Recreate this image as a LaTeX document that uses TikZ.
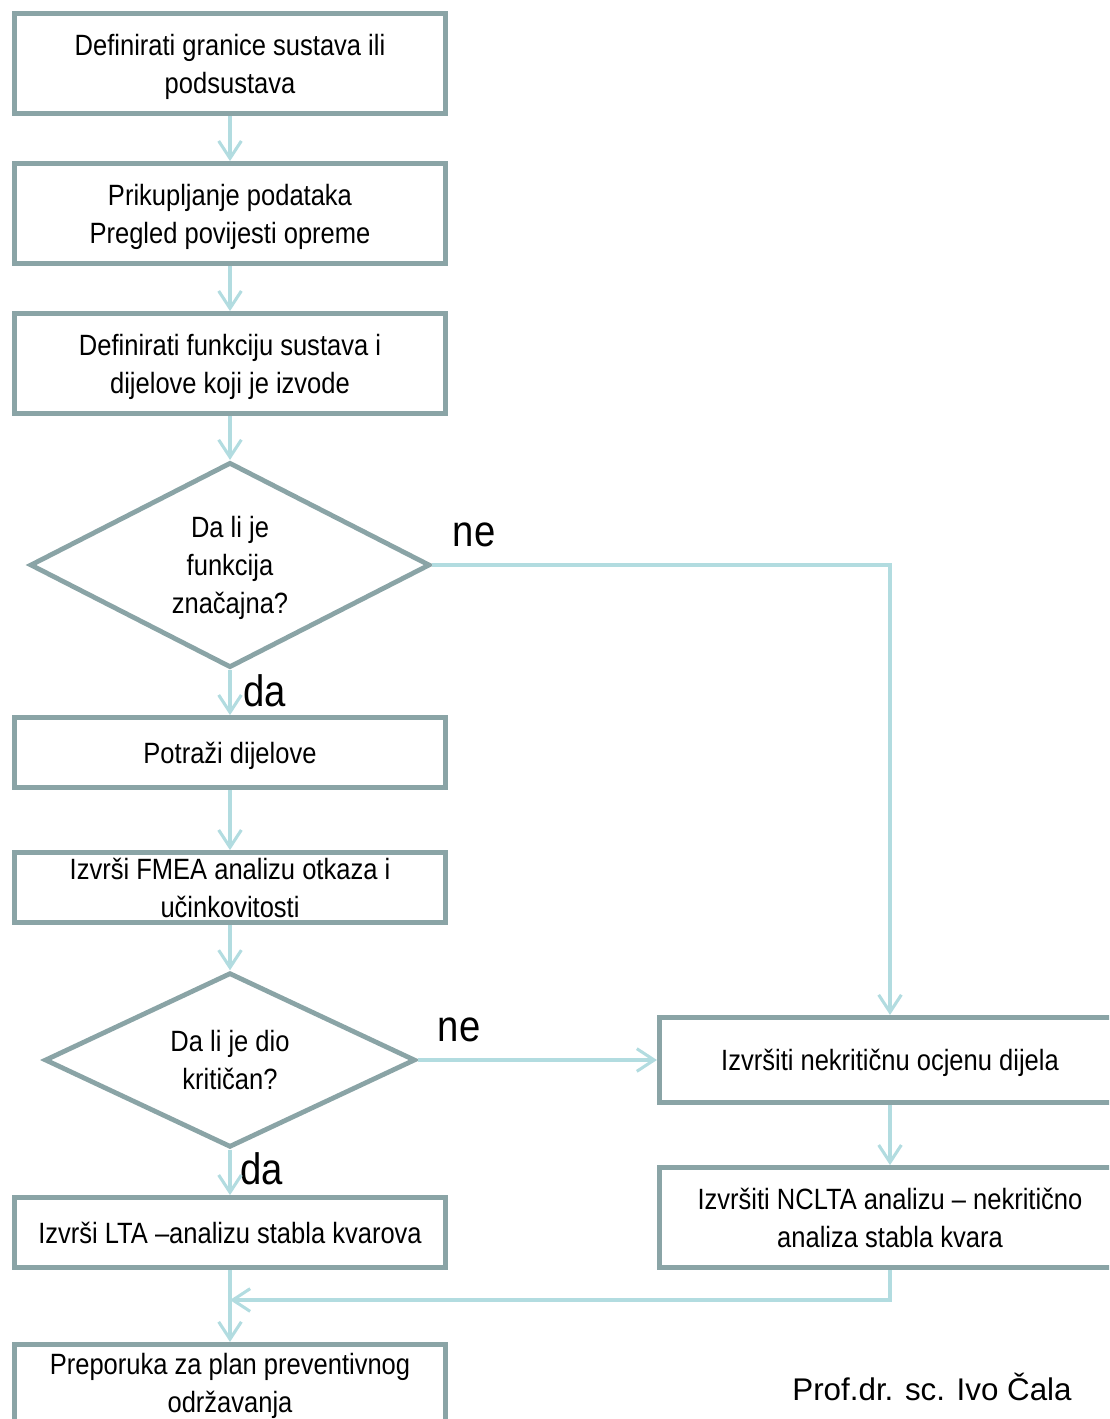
\documentclass[tikz,border=0pt]{standalone}
\usepackage{fontspec}
\setmainfont{Liberation Sans}
\newfontfamily\narrowfont{Liberation Sans}[FakeStretch=0.87]
\usetikzlibrary{shapes.geometric,arrows.meta}
\definecolor{boxline}{RGB}{138,164,166}
\definecolor{flowline}{RGB}{178,220,224}
\begin{document}
\begin{tikzpicture}[x=0.75pt,y=-0.75pt,
  box/.style={draw=boxline,line width=3.6pt,fill=white,rectangle,
    minimum width=323pt,align=center,inner sep=0pt,text depth=0pt,
    font=\narrowfont\fontsize{22}{28.5}\selectfont},
  decision/.style={draw=boxline,line width=3.6pt,fill=white,diamond,
    aspect=2,align=center,inner sep=0pt,text depth=0pt,
    font=\narrowfont\fontsize{22}{28.5}\selectfont},
  flow/.style={draw=flowline,line width=2.3pt,
    -{Straight Barb[length=13pt,width=17pt]}},
  answer/.style={font=\narrowfont\fontsize{33}{33}\selectfont,inner sep=0pt}]
\useasboundingbox (0,0) rectangle (1109,1419);
\clip (0,0) rectangle (1109,1419);

% left column
\node[box,minimum height=75pt] (b1) at (230,63.5) {Definirati granice sustava ili\\podsustava};
\node[box,minimum height=75pt] (b2) at (230,213.5) {Prikupljanje podataka\\Pregled povijesti opreme};
\node[box,minimum height=75pt] (b3) at (230,363.5) {Definirati funkciju sustava i\\dijelove koji je izvode};
\node[decision,minimum width=300pt,minimum height=154pt] (d1) at (230,565) {Da li je\\funkcija\\značajna?};
\node[box,minimum height=52.5pt] (b4) at (230,752.5) {Potraži dijelove};
\node[box,minimum height=52.5pt] (b5) at (230,887.5) {Izvrši FMEA analizu otkaza i\\učinkovitosti};
\node[decision,minimum width=278pt,minimum height=131pt] (d2) at (230,1060) {Da li je dio\\kritičan?};
\node[box,minimum height=52.5pt] (b6) at (230,1232.5) {Izvrši LTA –analizu stabla kvarova};
\node[box,minimum height=58pt] (b7) at (230,1383) {Preporuka za plan preventivnog\\održavanja};

% right column
\node[box,minimum width=346pt,minimum height=64pt] (ra) at (890,1060) {Izvršiti nekritičnu ocjenu dijela};
\node[box,minimum width=346pt,minimum height=75pt] (rb) at (890,1217.5) {Izvršiti NCLTA analizu – nekritično\\analiza stabla kvara};

% answers
\node[answer] (ne1) at (474,535) {ne};
\node[answer] (da1) at (265,691) {da};
\node[answer] (ne2) at (459,1030) {ne};
\node[answer] (da2) at (262,1169) {da};

\node[font=\fontsize{23.5}{28}\selectfont,inner sep=0pt] (author) at (932,1387) {Prof.dr. sc. Ivo Čala};

% connectors
\coordinate (join) at (230,1300);
\draw[flow] (b1) -- (b2);
\draw[flow] (b2) -- (b3);
\draw[flow] (b3) -- (d1);
\draw[flow] (d1) -- (b4);
\draw[flow] (b4) -- (b5);
\draw[flow] (b5) -- (d2);
\draw[flow] (d2) -- (b6);
\draw[flow] (b6) -- (b7);
\draw[flow] (d1.east) -| (ra.north);
\draw[flow] (d2.east) -- (ra.west);
\draw[flow] (ra) -- (rb);
\draw[flow] (rb.south) |- (join);
\end{tikzpicture}
\end{document}
